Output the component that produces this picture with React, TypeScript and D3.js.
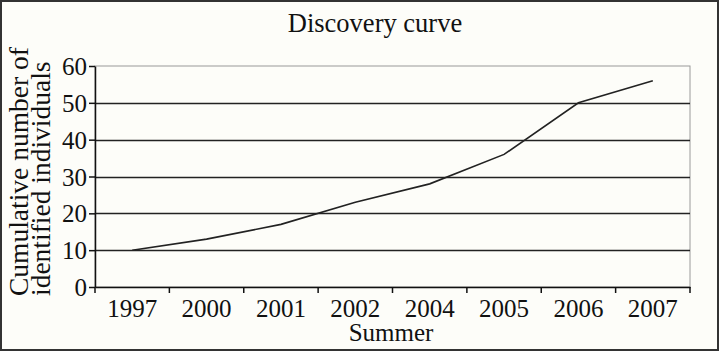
import React, { useEffect, useRef } from "react";
import * as d3 from "d3";

const years = ["1997", "2000", "2001", "2002", "2004", "2005", "2006", "2007"];
const cumulative = [10, 13, 17, 23, 28, 36, 50, 56];
const yTicks = [0, 10, 20, 30, 40, 50, 60];

const title = "Discovery curve";
const xTitle = "Summer";
const yTitleLines = ["Cumulative number of", "identified individuals"];

function App() {
  const ref = useRef<SVGSVGElement>(null);

  useEffect(() => {
    const svg = d3.select(ref.current);
    svg.selectAll("*").remove();

    const W = 720;
    const H = 352;
    const margin = { left: 95, right: 30, top: 66, bottom: 65 };
    const font = "'Liberation Serif', 'Times New Roman', serif";

    svg
      .append("rect")
      .attr("x", 1)
      .attr("y", 1)
      .attr("width", W - 3)
      .attr("height", H - 3)
      .attr("fill", "#fdfdf9")
      .attr("stroke", "#333")
      .attr("stroke-width", 2);

    const x = d3
      .scaleBand()
      .domain(years)
      .range([margin.left, W - margin.right]);
    const y = d3
      .scaleLinear()
      .domain([0, 60])
      .range([H - margin.bottom, margin.top]);

    // plot frame (top & right in grey)
    svg
      .append("rect")
      .attr("x", margin.left)
      .attr("y", margin.top)
      .attr("width", W - margin.right - margin.left)
      .attr("height", H - margin.bottom - margin.top)
      .attr("fill", "none")
      .attr("stroke", "#9a9a9a")
      .attr("stroke-width", 1);

    // gridlines
    svg
      .append("g")
      .selectAll("line")
      .data(yTicks.filter(d => d > 0 && d < 60))
      .enter()
      .append("line")
      .attr("x1", margin.left)
      .attr("x2", W - margin.right)
      .attr("y1", d => Math.round(y(d)) + 0.5)
      .attr("y2", d => Math.round(y(d)) + 0.5)
      .attr("stroke", "#222")
      .attr("stroke-width", 1.3);

    const yAxis = svg
      .append("g")
      .attr("transform", `translate(${margin.left},0)`)
      .call(
        d3
          .axisLeft(y)
          .tickValues(yTicks)
          .tickSize(6)
          .tickSizeOuter(0)
      );

    const xAxis = svg
      .append("g")
      .attr("transform", `translate(0,${H - margin.bottom})`)
      .call(d3.axisBottom(x).tickSize(0).tickSizeOuter(0));

    // ticks at band boundaries
    const edges = years.map(d => x(d) as number).concat([W - margin.right]);
    xAxis
      .selectAll("line.edge")
      .data(edges)
      .enter()
      .append("line")
      .attr("class", "edge")
      .attr("x1", d => d)
      .attr("x2", d => d)
      .attr("y1", 0)
      .attr("y2", 6)
      .attr("stroke", "#111")
      .attr("stroke-width", 1.5);

    [yAxis, xAxis].forEach(a => {
      a.select(".domain").attr("stroke", "#111").attr("stroke-width", 1.5);
      a.selectAll(".tick line").attr("stroke", "#111").attr("stroke-width", 1.5);
      a.selectAll("text")
        .attr("font-family", font)
        .attr("font-size", 25)
        .attr("fill", "#111");
    });
    yAxis.selectAll(".tick text").attr("x", -8).attr("dy", "0.34em");
    xAxis.selectAll(".tick text").attr("y", 7).attr("dy", "0.9em");

    const line = d3
      .line<number>()
      .x((d, i) => (x(years[i]) as number) + x.bandwidth() / 2)
      .y(d => y(d));

    svg
      .append("path")
      .datum(cumulative)
      .attr("d", line)
      .attr("fill", "none")
      .attr("stroke", "#222")
      .attr("stroke-width", 1.6);

    svg
      .append("text")
      .attr("x", 375)
      .attr("y", 32)
      .attr("text-anchor", "middle")
      .attr("font-family", font)
      .attr("font-size", 26.5)
      .attr("fill", "#111")
      .text(title);

    svg
      .append("text")
      .attr("x", 391)
      .attr("y", 341)
      .attr("text-anchor", "middle")
      .attr("font-family", font)
      .attr("font-size", 25)
      .attr("fill", "#111")
      .text(xTitle);

    yTitleLines.forEach((t, i) => {
      svg
        .append("text")
        .attr("transform", `translate(${28 + i * 22},296) rotate(-90)`)
        .attr("text-anchor", "start")
        .attr("font-family", font)
        .attr("font-size", 27.5)
        .attr("fill", "#111")
        .text(t);
    });
  }, []);

  return (
    <svg
      ref={ref}
      width={720}
      height={352}
      style={{ position: "absolute", left: 0, top: 0 }}
    />
  );
}

export default App;
